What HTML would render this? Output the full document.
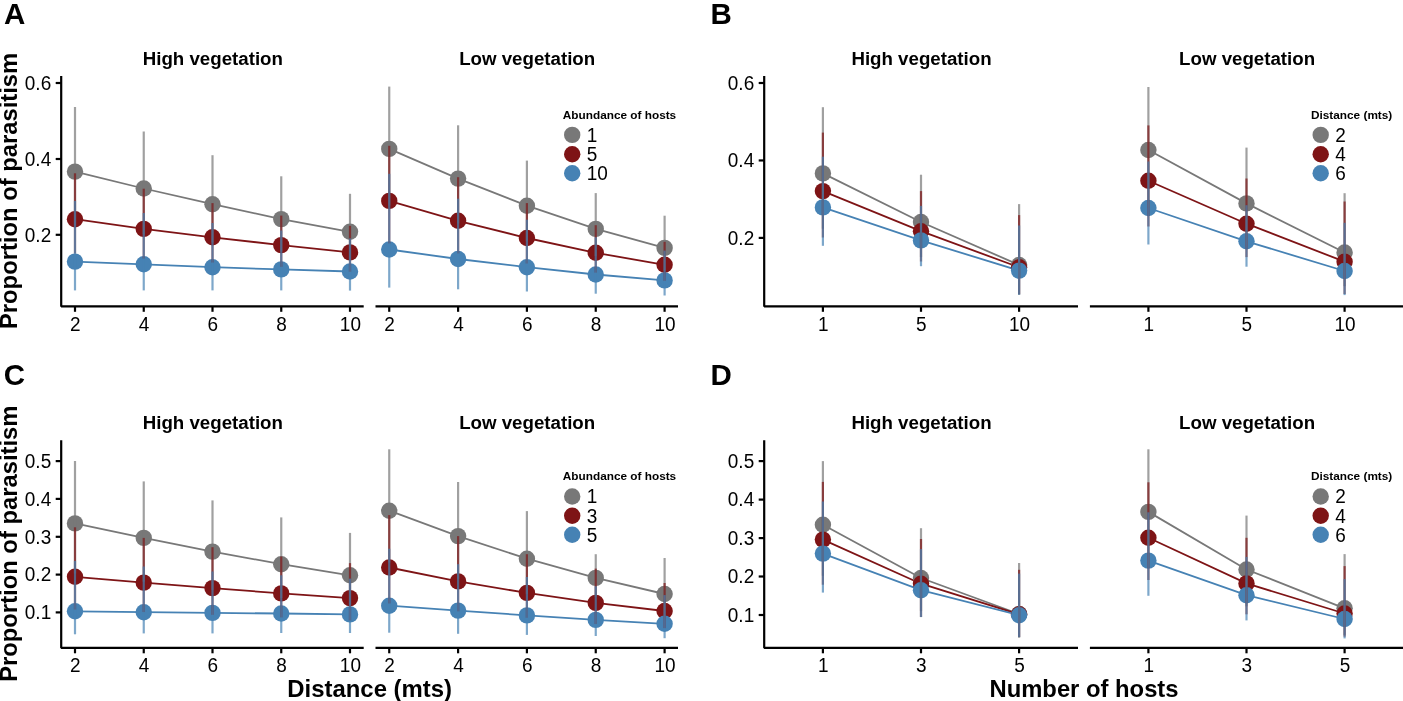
<!DOCTYPE html>
<html><head><meta charset="utf-8"><style>html,body{margin:0;padding:0;background:#fff;width:1403px;height:701px;overflow:hidden}svg{display:block;will-change:transform}text{font-family:"Liberation Sans",sans-serif}</style></head>
<body><svg width="1403" height="701" viewBox="0 0 1403 701">
<rect width="1403" height="701" fill="#fff"/>
<polyline points="75.00,171.60 143.75,188.50 212.50,204.20 281.25,219.10 350.00,231.80" fill="none" stroke="#787878" stroke-width="1.8"/>
<polyline points="75.00,219.20 143.75,228.90 212.50,237.30 281.25,245.10 350.00,252.40" fill="none" stroke="#7e1416" stroke-width="1.8"/>
<polyline points="75.00,261.60 143.75,264.30 212.50,267.20 281.25,269.40 350.00,271.50" fill="none" stroke="#4682b4" stroke-width="1.8"/>
<circle cx="75.00" cy="171.60" r="8.2" fill="#787878"/>
<circle cx="143.75" cy="188.50" r="8.2" fill="#787878"/>
<circle cx="212.50" cy="204.20" r="8.2" fill="#787878"/>
<circle cx="281.25" cy="219.10" r="8.2" fill="#787878"/>
<circle cx="350.00" cy="231.80" r="8.2" fill="#787878"/>
<circle cx="75.00" cy="219.20" r="8.2" fill="#7e1416"/>
<circle cx="143.75" cy="228.90" r="8.2" fill="#7e1416"/>
<circle cx="212.50" cy="237.30" r="8.2" fill="#7e1416"/>
<circle cx="281.25" cy="245.10" r="8.2" fill="#7e1416"/>
<circle cx="350.00" cy="252.40" r="8.2" fill="#7e1416"/>
<circle cx="75.00" cy="261.60" r="8.2" fill="#4682b4"/>
<circle cx="143.75" cy="264.30" r="8.2" fill="#4682b4"/>
<circle cx="212.50" cy="267.20" r="8.2" fill="#4682b4"/>
<circle cx="281.25" cy="269.40" r="8.2" fill="#4682b4"/>
<circle cx="350.00" cy="271.50" r="8.2" fill="#4682b4"/>
<line x1="75.00" y1="107.00" x2="75.00" y2="225.63" stroke="#787878" stroke-width="2.2" stroke-opacity="0.7"/>
<line x1="143.75" y1="131.50" x2="143.75" y2="234.29" stroke="#787878" stroke-width="2.2" stroke-opacity="0.7"/>
<line x1="212.50" y1="155.20" x2="212.50" y2="242.46" stroke="#787878" stroke-width="2.2" stroke-opacity="0.7"/>
<line x1="281.25" y1="176.30" x2="281.25" y2="251.56" stroke="#787878" stroke-width="2.2" stroke-opacity="0.7"/>
<line x1="350.00" y1="193.80" x2="350.00" y2="259.84" stroke="#787878" stroke-width="2.2" stroke-opacity="0.7"/>
<line x1="75.00" y1="173.30" x2="75.00" y2="253.40" stroke="#7e1416" stroke-width="2.2" stroke-opacity="0.7"/>
<line x1="143.75" y1="188.70" x2="143.75" y2="258.54" stroke="#7e1416" stroke-width="2.2" stroke-opacity="0.7"/>
<line x1="212.50" y1="203.10" x2="212.50" y2="262.55" stroke="#7e1416" stroke-width="2.2" stroke-opacity="0.7"/>
<line x1="281.25" y1="215.60" x2="281.25" y2="266.86" stroke="#7e1416" stroke-width="2.2" stroke-opacity="0.7"/>
<line x1="350.00" y1="225.80" x2="350.00" y2="271.77" stroke="#7e1416" stroke-width="2.2" stroke-opacity="0.7"/>
<line x1="75.00" y1="200.90" x2="75.00" y2="290.40" stroke="#4682b4" stroke-width="2.2" stroke-opacity="0.7"/>
<line x1="143.75" y1="213.00" x2="143.75" y2="290.40" stroke="#4682b4" stroke-width="2.2" stroke-opacity="0.7"/>
<line x1="212.50" y1="223.00" x2="212.50" y2="290.40" stroke="#4682b4" stroke-width="2.2" stroke-opacity="0.7"/>
<line x1="281.25" y1="230.50" x2="281.25" y2="290.40" stroke="#4682b4" stroke-width="2.2" stroke-opacity="0.7"/>
<line x1="350.00" y1="238.40" x2="350.00" y2="290.60" stroke="#4682b4" stroke-width="2.2" stroke-opacity="0.7"/>
<polyline points="389.24,148.90 458.10,178.60 526.90,205.70 595.75,228.90 664.60,247.90" fill="none" stroke="#787878" stroke-width="1.8"/>
<polyline points="389.24,200.90 458.10,220.80 526.90,238.00 595.75,252.80 664.60,264.80" fill="none" stroke="#7e1416" stroke-width="1.8"/>
<polyline points="389.24,249.50 458.10,259.00 526.90,267.20 595.75,274.50 664.60,280.40" fill="none" stroke="#4682b4" stroke-width="1.8"/>
<circle cx="389.24" cy="148.90" r="8.2" fill="#787878"/>
<circle cx="458.10" cy="178.60" r="8.2" fill="#787878"/>
<circle cx="526.90" cy="205.70" r="8.2" fill="#787878"/>
<circle cx="595.75" cy="228.90" r="8.2" fill="#787878"/>
<circle cx="664.60" cy="247.90" r="8.2" fill="#787878"/>
<circle cx="389.24" cy="200.90" r="8.2" fill="#7e1416"/>
<circle cx="458.10" cy="220.80" r="8.2" fill="#7e1416"/>
<circle cx="526.90" cy="238.00" r="8.2" fill="#7e1416"/>
<circle cx="595.75" cy="252.80" r="8.2" fill="#7e1416"/>
<circle cx="664.60" cy="264.80" r="8.2" fill="#7e1416"/>
<circle cx="389.24" cy="249.50" r="8.2" fill="#4682b4"/>
<circle cx="458.10" cy="259.00" r="8.2" fill="#4682b4"/>
<circle cx="526.90" cy="267.20" r="8.2" fill="#4682b4"/>
<circle cx="595.75" cy="274.50" r="8.2" fill="#4682b4"/>
<circle cx="664.60" cy="280.40" r="8.2" fill="#4682b4"/>
<line x1="389.24" y1="86.60" x2="389.24" y2="205.59" stroke="#787878" stroke-width="2.2" stroke-opacity="0.7"/>
<line x1="458.10" y1="125.30" x2="458.10" y2="223.46" stroke="#787878" stroke-width="2.2" stroke-opacity="0.7"/>
<line x1="526.90" y1="160.60" x2="526.90" y2="241.35" stroke="#787878" stroke-width="2.2" stroke-opacity="0.7"/>
<line x1="595.75" y1="193.10" x2="595.75" y2="256.07" stroke="#787878" stroke-width="2.2" stroke-opacity="0.7"/>
<line x1="664.60" y1="215.70" x2="664.60" y2="270.72" stroke="#787878" stroke-width="2.2" stroke-opacity="0.7"/>
<line x1="389.24" y1="145.80" x2="389.24" y2="243.37" stroke="#7e1416" stroke-width="2.2" stroke-opacity="0.7"/>
<line x1="458.10" y1="177.20" x2="458.10" y2="253.47" stroke="#7e1416" stroke-width="2.2" stroke-opacity="0.7"/>
<line x1="526.90" y1="203.10" x2="526.90" y2="263.54" stroke="#7e1416" stroke-width="2.2" stroke-opacity="0.7"/>
<line x1="595.75" y1="225.20" x2="595.75" y2="272.64" stroke="#7e1416" stroke-width="2.2" stroke-opacity="0.7"/>
<line x1="664.60" y1="241.80" x2="664.60" y2="280.86" stroke="#7e1416" stroke-width="2.2" stroke-opacity="0.7"/>
<line x1="389.24" y1="173.80" x2="389.24" y2="287.60" stroke="#4682b4" stroke-width="2.2" stroke-opacity="0.7"/>
<line x1="458.10" y1="198.70" x2="458.10" y2="289.30" stroke="#4682b4" stroke-width="2.2" stroke-opacity="0.7"/>
<line x1="526.90" y1="219.70" x2="526.90" y2="291.50" stroke="#4682b4" stroke-width="2.2" stroke-opacity="0.7"/>
<line x1="595.75" y1="237.30" x2="595.75" y2="293.70" stroke="#4682b4" stroke-width="2.2" stroke-opacity="0.7"/>
<line x1="664.60" y1="250.60" x2="664.60" y2="295.50" stroke="#4682b4" stroke-width="2.2" stroke-opacity="0.7"/>
<polyline points="822.90,173.40 921.00,222.00 1019.10,265.00" fill="none" stroke="#787878" stroke-width="1.8"/>
<polyline points="822.90,191.10 921.00,231.20 1019.10,267.30" fill="none" stroke="#7e1416" stroke-width="1.8"/>
<polyline points="822.90,207.40 921.00,240.40 1019.10,270.60" fill="none" stroke="#4682b4" stroke-width="1.8"/>
<circle cx="822.90" cy="173.40" r="8.2" fill="#787878"/>
<circle cx="921.00" cy="222.00" r="8.2" fill="#787878"/>
<circle cx="1019.10" cy="265.00" r="8.2" fill="#787878"/>
<circle cx="822.90" cy="191.10" r="8.2" fill="#7e1416"/>
<circle cx="921.00" cy="231.20" r="8.2" fill="#7e1416"/>
<circle cx="1019.10" cy="267.30" r="8.2" fill="#7e1416"/>
<circle cx="822.90" cy="207.40" r="8.2" fill="#4682b4"/>
<circle cx="921.00" cy="240.40" r="8.2" fill="#4682b4"/>
<circle cx="1019.10" cy="270.60" r="8.2" fill="#4682b4"/>
<line x1="822.90" y1="107.20" x2="822.90" y2="228.73" stroke="#787878" stroke-width="2.2" stroke-opacity="0.7"/>
<line x1="921.00" y1="174.70" x2="921.00" y2="257.15" stroke="#787878" stroke-width="2.2" stroke-opacity="0.7"/>
<line x1="1019.10" y1="204.10" x2="1019.10" y2="295.02" stroke="#787878" stroke-width="2.2" stroke-opacity="0.7"/>
<line x1="822.90" y1="132.60" x2="822.90" y2="237.50" stroke="#7e1416" stroke-width="2.2" stroke-opacity="0.7"/>
<line x1="921.00" y1="191.10" x2="921.00" y2="261.50" stroke="#7e1416" stroke-width="2.2" stroke-opacity="0.7"/>
<line x1="1019.10" y1="215.10" x2="1019.10" y2="294.00" stroke="#7e1416" stroke-width="2.2" stroke-opacity="0.7"/>
<line x1="822.90" y1="156.70" x2="822.90" y2="245.80" stroke="#4682b4" stroke-width="2.2" stroke-opacity="0.7"/>
<line x1="921.00" y1="205.90" x2="921.00" y2="266.20" stroke="#4682b4" stroke-width="2.2" stroke-opacity="0.7"/>
<line x1="1019.10" y1="225.50" x2="1019.10" y2="294.70" stroke="#4682b4" stroke-width="2.2" stroke-opacity="0.7"/>
<polyline points="1148.40,150.00 1246.50,203.40 1344.60,252.50" fill="none" stroke="#787878" stroke-width="1.8"/>
<polyline points="1148.40,180.80 1246.50,223.70 1344.60,261.70" fill="none" stroke="#7e1416" stroke-width="1.8"/>
<polyline points="1148.40,208.00 1246.50,241.30 1344.60,271.00" fill="none" stroke="#4682b4" stroke-width="1.8"/>
<circle cx="1148.40" cy="150.00" r="8.2" fill="#787878"/>
<circle cx="1246.50" cy="203.40" r="8.2" fill="#787878"/>
<circle cx="1344.60" cy="252.50" r="8.2" fill="#787878"/>
<circle cx="1148.40" cy="180.80" r="8.2" fill="#7e1416"/>
<circle cx="1246.50" cy="223.70" r="8.2" fill="#7e1416"/>
<circle cx="1344.60" cy="261.70" r="8.2" fill="#7e1416"/>
<circle cx="1148.40" cy="208.00" r="8.2" fill="#4682b4"/>
<circle cx="1246.50" cy="241.30" r="8.2" fill="#4682b4"/>
<circle cx="1344.60" cy="271.00" r="8.2" fill="#4682b4"/>
<line x1="1148.40" y1="87.00" x2="1148.40" y2="207.42" stroke="#787878" stroke-width="2.2" stroke-opacity="0.7"/>
<line x1="1246.50" y1="147.60" x2="1246.50" y2="246.46" stroke="#787878" stroke-width="2.2" stroke-opacity="0.7"/>
<line x1="1344.60" y1="193.20" x2="1344.60" y2="286.18" stroke="#787878" stroke-width="2.2" stroke-opacity="0.7"/>
<line x1="1148.40" y1="125.40" x2="1148.40" y2="226.50" stroke="#7e1416" stroke-width="2.2" stroke-opacity="0.7"/>
<line x1="1246.50" y1="178.50" x2="1246.50" y2="257.10" stroke="#7e1416" stroke-width="2.2" stroke-opacity="0.7"/>
<line x1="1344.60" y1="201.50" x2="1344.60" y2="294.00" stroke="#7e1416" stroke-width="2.2" stroke-opacity="0.7"/>
<line x1="1148.40" y1="161.50" x2="1148.40" y2="244.50" stroke="#4682b4" stroke-width="2.2" stroke-opacity="0.7"/>
<line x1="1246.50" y1="205.20" x2="1246.50" y2="266.70" stroke="#4682b4" stroke-width="2.2" stroke-opacity="0.7"/>
<line x1="1344.60" y1="222.80" x2="1344.60" y2="295.10" stroke="#4682b4" stroke-width="2.2" stroke-opacity="0.7"/>
<polyline points="75.00,523.40 143.75,537.90 212.50,551.60 281.25,564.20 350.00,575.30" fill="none" stroke="#787878" stroke-width="1.8"/>
<polyline points="75.00,576.80 143.75,582.60 212.50,588.10 281.25,593.40 350.00,598.10" fill="none" stroke="#7e1416" stroke-width="1.8"/>
<polyline points="75.00,611.30 143.75,612.20 212.50,612.90 281.25,613.50 350.00,614.40" fill="none" stroke="#4682b4" stroke-width="1.8"/>
<circle cx="75.00" cy="523.40" r="8.2" fill="#787878"/>
<circle cx="143.75" cy="537.90" r="8.2" fill="#787878"/>
<circle cx="212.50" cy="551.60" r="8.2" fill="#787878"/>
<circle cx="281.25" cy="564.20" r="8.2" fill="#787878"/>
<circle cx="350.00" cy="575.30" r="8.2" fill="#787878"/>
<circle cx="75.00" cy="576.80" r="8.2" fill="#7e1416"/>
<circle cx="143.75" cy="582.60" r="8.2" fill="#7e1416"/>
<circle cx="212.50" cy="588.10" r="8.2" fill="#7e1416"/>
<circle cx="281.25" cy="593.40" r="8.2" fill="#7e1416"/>
<circle cx="350.00" cy="598.10" r="8.2" fill="#7e1416"/>
<circle cx="75.00" cy="611.30" r="8.2" fill="#4682b4"/>
<circle cx="143.75" cy="612.20" r="8.2" fill="#4682b4"/>
<circle cx="212.50" cy="612.90" r="8.2" fill="#4682b4"/>
<circle cx="281.25" cy="613.50" r="8.2" fill="#4682b4"/>
<circle cx="350.00" cy="614.40" r="8.2" fill="#4682b4"/>
<line x1="75.00" y1="461.00" x2="75.00" y2="573.56" stroke="#787878" stroke-width="2.2" stroke-opacity="0.7"/>
<line x1="143.75" y1="481.40" x2="143.75" y2="581.68" stroke="#787878" stroke-width="2.2" stroke-opacity="0.7"/>
<line x1="212.50" y1="500.40" x2="212.50" y2="589.92" stroke="#787878" stroke-width="2.2" stroke-opacity="0.7"/>
<line x1="281.25" y1="517.40" x2="281.25" y2="598.01" stroke="#787878" stroke-width="2.2" stroke-opacity="0.7"/>
<line x1="350.00" y1="532.90" x2="350.00" y2="605.03" stroke="#787878" stroke-width="2.2" stroke-opacity="0.7"/>
<line x1="75.00" y1="527.30" x2="75.00" y2="609.54" stroke="#7e1416" stroke-width="2.2" stroke-opacity="0.7"/>
<line x1="143.75" y1="537.90" x2="143.75" y2="612.06" stroke="#7e1416" stroke-width="2.2" stroke-opacity="0.7"/>
<line x1="212.50" y1="547.20" x2="212.50" y2="614.85" stroke="#7e1416" stroke-width="2.2" stroke-opacity="0.7"/>
<line x1="281.25" y1="556.50" x2="281.25" y2="617.44" stroke="#7e1416" stroke-width="2.2" stroke-opacity="0.7"/>
<line x1="350.00" y1="563.10" x2="350.00" y2="620.47" stroke="#7e1416" stroke-width="2.2" stroke-opacity="0.7"/>
<line x1="75.00" y1="560.90" x2="75.00" y2="634.30" stroke="#4682b4" stroke-width="2.2" stroke-opacity="0.7"/>
<line x1="143.75" y1="566.50" x2="143.75" y2="633.40" stroke="#4682b4" stroke-width="2.2" stroke-opacity="0.7"/>
<line x1="212.50" y1="571.50" x2="212.50" y2="633.40" stroke="#4682b4" stroke-width="2.2" stroke-opacity="0.7"/>
<line x1="281.25" y1="575.30" x2="281.25" y2="633.00" stroke="#4682b4" stroke-width="2.2" stroke-opacity="0.7"/>
<line x1="350.00" y1="578.60" x2="350.00" y2="633.00" stroke="#4682b4" stroke-width="2.2" stroke-opacity="0.7"/>
<polyline points="389.24,510.70 458.10,536.10 526.90,558.70 595.75,577.90 664.60,594.00" fill="none" stroke="#787878" stroke-width="1.8"/>
<polyline points="389.24,567.50 458.10,581.40 526.90,592.90 595.75,602.90 664.60,611.00" fill="none" stroke="#7e1416" stroke-width="1.8"/>
<polyline points="389.24,605.70 458.10,610.60 526.90,615.40 595.75,619.90 664.60,623.80" fill="none" stroke="#4682b4" stroke-width="1.8"/>
<circle cx="389.24" cy="510.70" r="8.2" fill="#787878"/>
<circle cx="458.10" cy="536.10" r="8.2" fill="#787878"/>
<circle cx="526.90" cy="558.70" r="8.2" fill="#787878"/>
<circle cx="595.75" cy="577.90" r="8.2" fill="#787878"/>
<circle cx="664.60" cy="594.00" r="8.2" fill="#787878"/>
<circle cx="389.24" cy="567.50" r="8.2" fill="#7e1416"/>
<circle cx="458.10" cy="581.40" r="8.2" fill="#7e1416"/>
<circle cx="526.90" cy="592.90" r="8.2" fill="#7e1416"/>
<circle cx="595.75" cy="602.90" r="8.2" fill="#7e1416"/>
<circle cx="664.60" cy="611.00" r="8.2" fill="#7e1416"/>
<circle cx="389.24" cy="605.70" r="8.2" fill="#4682b4"/>
<circle cx="458.10" cy="610.60" r="8.2" fill="#4682b4"/>
<circle cx="526.90" cy="615.40" r="8.2" fill="#4682b4"/>
<circle cx="595.75" cy="619.90" r="8.2" fill="#4682b4"/>
<circle cx="664.60" cy="623.80" r="8.2" fill="#4682b4"/>
<line x1="389.24" y1="449.30" x2="389.24" y2="562.60" stroke="#787878" stroke-width="2.2" stroke-opacity="0.7"/>
<line x1="458.10" y1="482.00" x2="458.10" y2="578.72" stroke="#787878" stroke-width="2.2" stroke-opacity="0.7"/>
<line x1="526.90" y1="511.10" x2="526.90" y2="593.85" stroke="#787878" stroke-width="2.2" stroke-opacity="0.7"/>
<line x1="595.75" y1="554.20" x2="595.75" y2="596.85" stroke="#787878" stroke-width="2.2" stroke-opacity="0.7"/>
<line x1="664.60" y1="558.00" x2="664.60" y2="617.55" stroke="#787878" stroke-width="2.2" stroke-opacity="0.7"/>
<line x1="389.24" y1="515.10" x2="389.24" y2="603.48" stroke="#7e1416" stroke-width="2.2" stroke-opacity="0.7"/>
<line x1="458.10" y1="536.10" x2="458.10" y2="611.36" stroke="#7e1416" stroke-width="2.2" stroke-opacity="0.7"/>
<line x1="526.90" y1="554.20" x2="526.90" y2="617.79" stroke="#7e1416" stroke-width="2.2" stroke-opacity="0.7"/>
<line x1="595.75" y1="568.60" x2="595.75" y2="624.05" stroke="#7e1416" stroke-width="2.2" stroke-opacity="0.7"/>
<line x1="664.60" y1="583.00" x2="664.60" y2="628.16" stroke="#7e1416" stroke-width="2.2" stroke-opacity="0.7"/>
<line x1="389.24" y1="548.70" x2="389.24" y2="632.70" stroke="#4682b4" stroke-width="2.2" stroke-opacity="0.7"/>
<line x1="458.10" y1="564.20" x2="458.10" y2="633.80" stroke="#4682b4" stroke-width="2.2" stroke-opacity="0.7"/>
<line x1="526.90" y1="577.00" x2="526.90" y2="634.90" stroke="#4682b4" stroke-width="2.2" stroke-opacity="0.7"/>
<line x1="595.75" y1="586.30" x2="595.75" y2="636.00" stroke="#4682b4" stroke-width="2.2" stroke-opacity="0.7"/>
<line x1="664.60" y1="595.10" x2="664.60" y2="638.20" stroke="#4682b4" stroke-width="2.2" stroke-opacity="0.7"/>
<polyline points="822.90,524.70 921.00,578.00 1019.10,614.00" fill="none" stroke="#787878" stroke-width="1.8"/>
<polyline points="822.90,539.60 921.00,583.70 1019.10,614.30" fill="none" stroke="#7e1416" stroke-width="1.8"/>
<polyline points="822.90,553.60 921.00,590.20 1019.10,615.20" fill="none" stroke="#4682b4" stroke-width="1.8"/>
<circle cx="822.90" cy="524.70" r="8.2" fill="#787878"/>
<circle cx="921.00" cy="578.00" r="8.2" fill="#787878"/>
<circle cx="1019.10" cy="614.00" r="8.2" fill="#787878"/>
<circle cx="822.90" cy="539.60" r="8.2" fill="#7e1416"/>
<circle cx="921.00" cy="583.70" r="8.2" fill="#7e1416"/>
<circle cx="1019.10" cy="614.30" r="8.2" fill="#7e1416"/>
<circle cx="822.90" cy="553.60" r="8.2" fill="#4682b4"/>
<circle cx="921.00" cy="590.20" r="8.2" fill="#4682b4"/>
<circle cx="1019.10" cy="615.20" r="8.2" fill="#4682b4"/>
<line x1="822.90" y1="461.10" x2="822.90" y2="575.77" stroke="#787878" stroke-width="2.2" stroke-opacity="0.7"/>
<line x1="921.00" y1="528.20" x2="921.00" y2="611.23" stroke="#787878" stroke-width="2.2" stroke-opacity="0.7"/>
<line x1="1019.10" y1="563.00" x2="1019.10" y2="637.79" stroke="#787878" stroke-width="2.2" stroke-opacity="0.7"/>
<line x1="822.90" y1="481.90" x2="822.90" y2="584.70" stroke="#7e1416" stroke-width="2.2" stroke-opacity="0.7"/>
<line x1="921.00" y1="539.00" x2="921.00" y2="617.00" stroke="#7e1416" stroke-width="2.2" stroke-opacity="0.7"/>
<line x1="1019.10" y1="569.80" x2="1019.10" y2="637.00" stroke="#7e1416" stroke-width="2.2" stroke-opacity="0.7"/>
<line x1="822.90" y1="501.50" x2="822.90" y2="592.60" stroke="#4682b4" stroke-width="2.2" stroke-opacity="0.7"/>
<line x1="921.00" y1="549.10" x2="921.00" y2="617.10" stroke="#4682b4" stroke-width="2.2" stroke-opacity="0.7"/>
<line x1="1019.10" y1="573.60" x2="1019.10" y2="637.10" stroke="#4682b4" stroke-width="2.2" stroke-opacity="0.7"/>
<polyline points="1148.40,511.90 1246.50,569.50 1344.60,608.30" fill="none" stroke="#787878" stroke-width="1.8"/>
<polyline points="1148.40,537.70 1246.50,583.40 1344.60,613.50" fill="none" stroke="#7e1416" stroke-width="1.8"/>
<polyline points="1148.40,560.60 1246.50,595.20 1344.60,619.00" fill="none" stroke="#4682b4" stroke-width="1.8"/>
<circle cx="1148.40" cy="511.90" r="8.2" fill="#787878"/>
<circle cx="1246.50" cy="569.50" r="8.2" fill="#787878"/>
<circle cx="1344.60" cy="608.30" r="8.2" fill="#787878"/>
<circle cx="1148.40" cy="537.70" r="8.2" fill="#7e1416"/>
<circle cx="1246.50" cy="583.40" r="8.2" fill="#7e1416"/>
<circle cx="1344.60" cy="613.50" r="8.2" fill="#7e1416"/>
<circle cx="1148.40" cy="560.60" r="8.2" fill="#4682b4"/>
<circle cx="1246.50" cy="595.20" r="8.2" fill="#4682b4"/>
<circle cx="1344.60" cy="619.00" r="8.2" fill="#4682b4"/>
<line x1="1148.40" y1="449.30" x2="1148.40" y2="564.74" stroke="#787878" stroke-width="2.2" stroke-opacity="0.7"/>
<line x1="1246.50" y1="515.60" x2="1246.50" y2="606.36" stroke="#787878" stroke-width="2.2" stroke-opacity="0.7"/>
<line x1="1344.60" y1="554.10" x2="1344.60" y2="634.88" stroke="#787878" stroke-width="2.2" stroke-opacity="0.7"/>
<line x1="1148.40" y1="482.30" x2="1148.40" y2="580.00" stroke="#7e1416" stroke-width="2.2" stroke-opacity="0.7"/>
<line x1="1246.50" y1="537.80" x2="1246.50" y2="614.30" stroke="#7e1416" stroke-width="2.2" stroke-opacity="0.7"/>
<line x1="1344.60" y1="566.10" x2="1344.60" y2="636.65" stroke="#7e1416" stroke-width="2.2" stroke-opacity="0.7"/>
<line x1="1148.40" y1="512.30" x2="1148.40" y2="595.80" stroke="#4682b4" stroke-width="2.2" stroke-opacity="0.7"/>
<line x1="1246.50" y1="556.90" x2="1246.50" y2="620.40" stroke="#4682b4" stroke-width="2.2" stroke-opacity="0.7"/>
<line x1="1344.60" y1="579.10" x2="1344.60" y2="638.40" stroke="#4682b4" stroke-width="2.2" stroke-opacity="0.7"/>
<path d="M61.2,76.0 L61.2,306.3 L363.7,306.3" fill="none" stroke="#000" stroke-width="2.2" stroke-linejoin="bevel" stroke-linecap="butt"/>
<line x1="375.5" y1="306.3" x2="678.0" y2="306.3" stroke="#000" stroke-width="2.2"/>
<path d="M764.2,76.0 L764.2,306.3 L1078.0,306.3" fill="none" stroke="#000" stroke-width="2.2" stroke-linejoin="bevel" stroke-linecap="butt"/>
<line x1="1089.9" y1="306.3" x2="1403.5" y2="306.3" stroke="#000" stroke-width="2.2"/>
<path d="M61.2,440.3 L61.2,647.8 L363.7,647.8" fill="none" stroke="#000" stroke-width="2.2" stroke-linejoin="bevel" stroke-linecap="butt"/>
<line x1="375.5" y1="647.8" x2="678.0" y2="647.8" stroke="#000" stroke-width="2.2"/>
<path d="M764.2,440.3 L764.2,647.8 L1078.0,647.8" fill="none" stroke="#000" stroke-width="2.2" stroke-linejoin="bevel" stroke-linecap="butt"/>
<line x1="1089.9" y1="647.8" x2="1403.5" y2="647.8" stroke="#000" stroke-width="2.2"/>
<line x1="75.0" y1="306.3" x2="75.0" y2="311.8" stroke="#000" stroke-width="2.2"/>
<text transform="translate(75.4,330.8) scale(1,1.06)" font-family="Liberation Sans" font-size="19" text-anchor="middle" fill="#000">2</text>
<line x1="143.75" y1="306.3" x2="143.75" y2="311.8" stroke="#000" stroke-width="2.2"/>
<text transform="translate(144.15,330.8) scale(1,1.06)" font-family="Liberation Sans" font-size="19" text-anchor="middle" fill="#000">4</text>
<line x1="212.5" y1="306.3" x2="212.5" y2="311.8" stroke="#000" stroke-width="2.2"/>
<text transform="translate(212.9,330.8) scale(1,1.06)" font-family="Liberation Sans" font-size="19" text-anchor="middle" fill="#000">6</text>
<line x1="281.25" y1="306.3" x2="281.25" y2="311.8" stroke="#000" stroke-width="2.2"/>
<text transform="translate(281.65,330.8) scale(1,1.06)" font-family="Liberation Sans" font-size="19" text-anchor="middle" fill="#000">8</text>
<line x1="350.0" y1="306.3" x2="350.0" y2="311.8" stroke="#000" stroke-width="2.2"/>
<text transform="translate(350.4,330.8) scale(1,1.06)" font-family="Liberation Sans" font-size="19" text-anchor="middle" fill="#000">10</text>
<line x1="389.24" y1="306.3" x2="389.24" y2="311.8" stroke="#000" stroke-width="2.2"/>
<text transform="translate(389.64,330.8) scale(1,1.06)" font-family="Liberation Sans" font-size="19" text-anchor="middle" fill="#000">2</text>
<line x1="458.1" y1="306.3" x2="458.1" y2="311.8" stroke="#000" stroke-width="2.2"/>
<text transform="translate(458.5,330.8) scale(1,1.06)" font-family="Liberation Sans" font-size="19" text-anchor="middle" fill="#000">4</text>
<line x1="526.9" y1="306.3" x2="526.9" y2="311.8" stroke="#000" stroke-width="2.2"/>
<text transform="translate(527.3,330.8) scale(1,1.06)" font-family="Liberation Sans" font-size="19" text-anchor="middle" fill="#000">6</text>
<line x1="595.75" y1="306.3" x2="595.75" y2="311.8" stroke="#000" stroke-width="2.2"/>
<text transform="translate(596.15,330.8) scale(1,1.06)" font-family="Liberation Sans" font-size="19" text-anchor="middle" fill="#000">8</text>
<line x1="664.6" y1="306.3" x2="664.6" y2="311.8" stroke="#000" stroke-width="2.2"/>
<text transform="translate(665.0,330.8) scale(1,1.06)" font-family="Liberation Sans" font-size="19" text-anchor="middle" fill="#000">10</text>
<line x1="822.9" y1="306.3" x2="822.9" y2="311.8" stroke="#000" stroke-width="2.2"/>
<text transform="translate(823.3,330.8) scale(1,1.06)" font-family="Liberation Sans" font-size="19" text-anchor="middle" fill="#000">1</text>
<line x1="921.0" y1="306.3" x2="921.0" y2="311.8" stroke="#000" stroke-width="2.2"/>
<text transform="translate(921.4,330.8) scale(1,1.06)" font-family="Liberation Sans" font-size="19" text-anchor="middle" fill="#000">5</text>
<line x1="1019.1" y1="306.3" x2="1019.1" y2="311.8" stroke="#000" stroke-width="2.2"/>
<text transform="translate(1019.5,330.8) scale(1,1.06)" font-family="Liberation Sans" font-size="19" text-anchor="middle" fill="#000">10</text>
<line x1="1148.4" y1="306.3" x2="1148.4" y2="311.8" stroke="#000" stroke-width="2.2"/>
<text transform="translate(1148.8000000000002,330.8) scale(1,1.06)" font-family="Liberation Sans" font-size="19" text-anchor="middle" fill="#000">1</text>
<line x1="1246.5" y1="306.3" x2="1246.5" y2="311.8" stroke="#000" stroke-width="2.2"/>
<text transform="translate(1246.9,330.8) scale(1,1.06)" font-family="Liberation Sans" font-size="19" text-anchor="middle" fill="#000">5</text>
<line x1="1344.6" y1="306.3" x2="1344.6" y2="311.8" stroke="#000" stroke-width="2.2"/>
<text transform="translate(1345.0,330.8) scale(1,1.06)" font-family="Liberation Sans" font-size="19" text-anchor="middle" fill="#000">10</text>
<line x1="75.0" y1="647.8" x2="75.0" y2="653.3" stroke="#000" stroke-width="2.2"/>
<text transform="translate(75.4,672.0) scale(1,1.06)" font-family="Liberation Sans" font-size="19" text-anchor="middle" fill="#000">2</text>
<line x1="143.75" y1="647.8" x2="143.75" y2="653.3" stroke="#000" stroke-width="2.2"/>
<text transform="translate(144.15,672.0) scale(1,1.06)" font-family="Liberation Sans" font-size="19" text-anchor="middle" fill="#000">4</text>
<line x1="212.5" y1="647.8" x2="212.5" y2="653.3" stroke="#000" stroke-width="2.2"/>
<text transform="translate(212.9,672.0) scale(1,1.06)" font-family="Liberation Sans" font-size="19" text-anchor="middle" fill="#000">6</text>
<line x1="281.25" y1="647.8" x2="281.25" y2="653.3" stroke="#000" stroke-width="2.2"/>
<text transform="translate(281.65,672.0) scale(1,1.06)" font-family="Liberation Sans" font-size="19" text-anchor="middle" fill="#000">8</text>
<line x1="350.0" y1="647.8" x2="350.0" y2="653.3" stroke="#000" stroke-width="2.2"/>
<text transform="translate(350.4,672.0) scale(1,1.06)" font-family="Liberation Sans" font-size="19" text-anchor="middle" fill="#000">10</text>
<line x1="389.24" y1="647.8" x2="389.24" y2="653.3" stroke="#000" stroke-width="2.2"/>
<text transform="translate(389.64,672.0) scale(1,1.06)" font-family="Liberation Sans" font-size="19" text-anchor="middle" fill="#000">2</text>
<line x1="458.1" y1="647.8" x2="458.1" y2="653.3" stroke="#000" stroke-width="2.2"/>
<text transform="translate(458.5,672.0) scale(1,1.06)" font-family="Liberation Sans" font-size="19" text-anchor="middle" fill="#000">4</text>
<line x1="526.9" y1="647.8" x2="526.9" y2="653.3" stroke="#000" stroke-width="2.2"/>
<text transform="translate(527.3,672.0) scale(1,1.06)" font-family="Liberation Sans" font-size="19" text-anchor="middle" fill="#000">6</text>
<line x1="595.75" y1="647.8" x2="595.75" y2="653.3" stroke="#000" stroke-width="2.2"/>
<text transform="translate(596.15,672.0) scale(1,1.06)" font-family="Liberation Sans" font-size="19" text-anchor="middle" fill="#000">8</text>
<line x1="664.6" y1="647.8" x2="664.6" y2="653.3" stroke="#000" stroke-width="2.2"/>
<text transform="translate(665.0,672.0) scale(1,1.06)" font-family="Liberation Sans" font-size="19" text-anchor="middle" fill="#000">10</text>
<line x1="822.9" y1="647.8" x2="822.9" y2="653.3" stroke="#000" stroke-width="2.2"/>
<text transform="translate(823.3,672.0) scale(1,1.06)" font-family="Liberation Sans" font-size="19" text-anchor="middle" fill="#000">1</text>
<line x1="921.0" y1="647.8" x2="921.0" y2="653.3" stroke="#000" stroke-width="2.2"/>
<text transform="translate(921.4,672.0) scale(1,1.06)" font-family="Liberation Sans" font-size="19" text-anchor="middle" fill="#000">3</text>
<line x1="1019.1" y1="647.8" x2="1019.1" y2="653.3" stroke="#000" stroke-width="2.2"/>
<text transform="translate(1019.5,672.0) scale(1,1.06)" font-family="Liberation Sans" font-size="19" text-anchor="middle" fill="#000">5</text>
<line x1="1148.4" y1="647.8" x2="1148.4" y2="653.3" stroke="#000" stroke-width="2.2"/>
<text transform="translate(1148.8000000000002,672.0) scale(1,1.06)" font-family="Liberation Sans" font-size="19" text-anchor="middle" fill="#000">1</text>
<line x1="1246.5" y1="647.8" x2="1246.5" y2="653.3" stroke="#000" stroke-width="2.2"/>
<text transform="translate(1246.9,672.0) scale(1,1.06)" font-family="Liberation Sans" font-size="19" text-anchor="middle" fill="#000">3</text>
<line x1="1344.6" y1="647.8" x2="1344.6" y2="653.3" stroke="#000" stroke-width="2.2"/>
<text transform="translate(1345.0,672.0) scale(1,1.06)" font-family="Liberation Sans" font-size="19" text-anchor="middle" fill="#000">5</text>
<line x1="55.7" y1="83.0" x2="61.2" y2="83.0" stroke="#000" stroke-width="2.2"/>
<text transform="translate(51.2,89.8) scale(1,1.06)" font-family="Liberation Sans" font-size="19" text-anchor="end" fill="#000">0.6</text>
<line x1="55.7" y1="159.0" x2="61.2" y2="159.0" stroke="#000" stroke-width="2.2"/>
<text transform="translate(51.2,165.8) scale(1,1.06)" font-family="Liberation Sans" font-size="19" text-anchor="end" fill="#000">0.4</text>
<line x1="55.7" y1="234.8" x2="61.2" y2="234.8" stroke="#000" stroke-width="2.2"/>
<text transform="translate(51.2,241.60000000000002) scale(1,1.06)" font-family="Liberation Sans" font-size="19" text-anchor="end" fill="#000">0.2</text>
<line x1="758.7" y1="83.0" x2="764.2" y2="83.0" stroke="#000" stroke-width="2.2"/>
<text transform="translate(754.2,89.8) scale(1,1.06)" font-family="Liberation Sans" font-size="19" text-anchor="end" fill="#000">0.6</text>
<line x1="758.7" y1="160.45" x2="764.2" y2="160.45" stroke="#000" stroke-width="2.2"/>
<text transform="translate(754.2,167.25) scale(1,1.06)" font-family="Liberation Sans" font-size="19" text-anchor="end" fill="#000">0.4</text>
<line x1="758.7" y1="237.9" x2="764.2" y2="237.9" stroke="#000" stroke-width="2.2"/>
<text transform="translate(754.2,244.70000000000002) scale(1,1.06)" font-family="Liberation Sans" font-size="19" text-anchor="end" fill="#000">0.2</text>
<line x1="55.7" y1="461.1" x2="61.2" y2="461.1" stroke="#000" stroke-width="2.2"/>
<text transform="translate(51.2,467.90000000000003) scale(1,1.06)" font-family="Liberation Sans" font-size="19" text-anchor="end" fill="#000">0.5</text>
<line x1="55.7" y1="498.9" x2="61.2" y2="498.9" stroke="#000" stroke-width="2.2"/>
<text transform="translate(51.2,505.7) scale(1,1.06)" font-family="Liberation Sans" font-size="19" text-anchor="end" fill="#000">0.4</text>
<line x1="55.7" y1="536.8" x2="61.2" y2="536.8" stroke="#000" stroke-width="2.2"/>
<text transform="translate(51.2,543.5999999999999) scale(1,1.06)" font-family="Liberation Sans" font-size="19" text-anchor="end" fill="#000">0.3</text>
<line x1="55.7" y1="574.6" x2="61.2" y2="574.6" stroke="#000" stroke-width="2.2"/>
<text transform="translate(51.2,581.4) scale(1,1.06)" font-family="Liberation Sans" font-size="19" text-anchor="end" fill="#000">0.2</text>
<line x1="55.7" y1="612.4" x2="61.2" y2="612.4" stroke="#000" stroke-width="2.2"/>
<text transform="translate(51.2,619.1999999999999) scale(1,1.06)" font-family="Liberation Sans" font-size="19" text-anchor="end" fill="#000">0.1</text>
<line x1="758.7" y1="461.1" x2="764.2" y2="461.1" stroke="#000" stroke-width="2.2"/>
<text transform="translate(754.2,467.90000000000003) scale(1,1.06)" font-family="Liberation Sans" font-size="19" text-anchor="end" fill="#000">0.5</text>
<line x1="758.7" y1="499.6" x2="764.2" y2="499.6" stroke="#000" stroke-width="2.2"/>
<text transform="translate(754.2,506.40000000000003) scale(1,1.06)" font-family="Liberation Sans" font-size="19" text-anchor="end" fill="#000">0.4</text>
<line x1="758.7" y1="538.1" x2="764.2" y2="538.1" stroke="#000" stroke-width="2.2"/>
<text transform="translate(754.2,544.9) scale(1,1.06)" font-family="Liberation Sans" font-size="19" text-anchor="end" fill="#000">0.3</text>
<line x1="758.7" y1="576.5" x2="764.2" y2="576.5" stroke="#000" stroke-width="2.2"/>
<text transform="translate(754.2,583.3) scale(1,1.06)" font-family="Liberation Sans" font-size="19" text-anchor="end" fill="#000">0.2</text>
<line x1="758.7" y1="615.0" x2="764.2" y2="615.0" stroke="#000" stroke-width="2.2"/>
<text transform="translate(754.2,621.8) scale(1,1.06)" font-family="Liberation Sans" font-size="19" text-anchor="end" fill="#000">0.1</text>
<text x="212.85" y="64.9" font-family="Liberation Sans" font-size="18.7" font-weight="bold" text-anchor="middle">High vegetation</text>
<text x="212.85" y="428.9" font-family="Liberation Sans" font-size="18.7" font-weight="bold" text-anchor="middle">High vegetation</text>
<text x="527.15" y="64.9" font-family="Liberation Sans" font-size="18.7" font-weight="bold" text-anchor="middle">Low vegetation</text>
<text x="527.15" y="428.9" font-family="Liberation Sans" font-size="18.7" font-weight="bold" text-anchor="middle">Low vegetation</text>
<text x="921.5" y="64.9" font-family="Liberation Sans" font-size="18.7" font-weight="bold" text-anchor="middle">High vegetation</text>
<text x="921.5" y="428.9" font-family="Liberation Sans" font-size="18.7" font-weight="bold" text-anchor="middle">High vegetation</text>
<text x="1247.1000000000001" y="64.9" font-family="Liberation Sans" font-size="18.7" font-weight="bold" text-anchor="middle">Low vegetation</text>
<text x="1247.1000000000001" y="428.9" font-family="Liberation Sans" font-size="18.7" font-weight="bold" text-anchor="middle">Low vegetation</text>
<text transform="translate(16.9,190.9) rotate(-90)" x="0" y="0" font-family="Liberation Sans" font-size="23.8" font-weight="bold" text-anchor="middle">Proportion of parasitism</text>
<text transform="translate(16.9,543.7) rotate(-90)" x="0" y="0" font-family="Liberation Sans" font-size="23.8" font-weight="bold" text-anchor="middle">Proportion of parasitism</text>
<text x="369.65" y="696.6" font-family="Liberation Sans" font-size="23.9" font-weight="bold" text-anchor="middle">Distance (mts)</text>
<text x="1084" y="697.2" font-family="Liberation Sans" font-size="23.8" font-weight="bold" text-anchor="middle">Number of hosts</text>
<text x="4" y="24" font-family="Liberation Sans" font-size="29.5" font-weight="bold">A</text>
<text x="710.4" y="24.2" font-family="Liberation Sans" font-size="29.5" font-weight="bold">B</text>
<text x="3.8" y="385.2" font-family="Liberation Sans" font-size="29.5" font-weight="bold">C</text>
<text x="710.4" y="385.2" font-family="Liberation Sans" font-size="29.5" font-weight="bold">D</text>
<text x="562.8" y="119.2" font-family="Liberation Sans" font-size="11.8" font-weight="bold" fill="#000">Abundance of hosts</text>
<circle cx="572.2" cy="134.9" r="8.2" fill="#787878"/>
<text transform="translate(586.7,141.70000000000002) scale(1,1.06)" font-family="Liberation Sans" font-size="19" fill="#000">1</text>
<circle cx="572.2" cy="154.2" r="8.2" fill="#7e1416"/>
<text transform="translate(586.7,161.0) scale(1,1.06)" font-family="Liberation Sans" font-size="19" fill="#000">5</text>
<circle cx="572.2" cy="173.3" r="8.2" fill="#4682b4"/>
<text transform="translate(586.7,180.10000000000002) scale(1,1.06)" font-family="Liberation Sans" font-size="19" fill="#000">10</text>
<text x="1311.0" y="119.2" font-family="Liberation Sans" font-size="11.8" font-weight="bold" fill="#000">Distance (mts)</text>
<circle cx="1320.7" cy="134.9" r="8.2" fill="#787878"/>
<text transform="translate(1335.2,141.70000000000002) scale(1,1.06)" font-family="Liberation Sans" font-size="19" fill="#000">2</text>
<circle cx="1320.7" cy="154.2" r="8.2" fill="#7e1416"/>
<text transform="translate(1335.2,161.0) scale(1,1.06)" font-family="Liberation Sans" font-size="19" fill="#000">4</text>
<circle cx="1320.7" cy="173.3" r="8.2" fill="#4682b4"/>
<text transform="translate(1335.2,180.10000000000002) scale(1,1.06)" font-family="Liberation Sans" font-size="19" fill="#000">6</text>
<text x="562.8" y="480.4" font-family="Liberation Sans" font-size="11.8" font-weight="bold" fill="#000">Abundance of hosts</text>
<circle cx="572.2" cy="496.5" r="8.2" fill="#787878"/>
<text transform="translate(586.7,503.3) scale(1,1.06)" font-family="Liberation Sans" font-size="19" fill="#000">1</text>
<circle cx="572.2" cy="515.7" r="8.2" fill="#7e1416"/>
<text transform="translate(586.7,522.5) scale(1,1.06)" font-family="Liberation Sans" font-size="19" fill="#000">3</text>
<circle cx="572.2" cy="534.7" r="8.2" fill="#4682b4"/>
<text transform="translate(586.7,541.5) scale(1,1.06)" font-family="Liberation Sans" font-size="19" fill="#000">5</text>
<text x="1311.0" y="480.4" font-family="Liberation Sans" font-size="11.8" font-weight="bold" fill="#000">Distance (mts)</text>
<circle cx="1320.7" cy="496.5" r="8.2" fill="#787878"/>
<text transform="translate(1335.2,503.3) scale(1,1.06)" font-family="Liberation Sans" font-size="19" fill="#000">2</text>
<circle cx="1320.7" cy="515.7" r="8.2" fill="#7e1416"/>
<text transform="translate(1335.2,522.5) scale(1,1.06)" font-family="Liberation Sans" font-size="19" fill="#000">4</text>
<circle cx="1320.7" cy="534.7" r="8.2" fill="#4682b4"/>
<text transform="translate(1335.2,541.5) scale(1,1.06)" font-family="Liberation Sans" font-size="19" fill="#000">6</text>
</svg></body></html>
